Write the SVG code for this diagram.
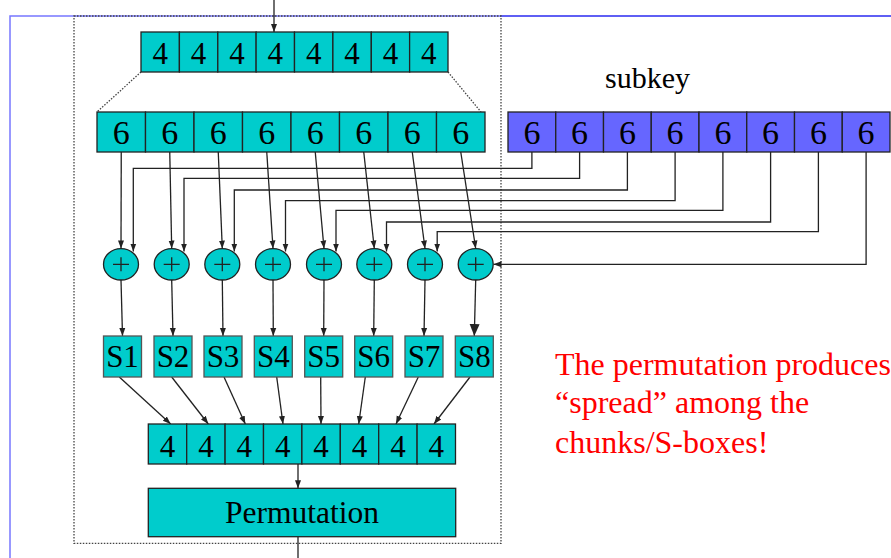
<svg xmlns="http://www.w3.org/2000/svg" width="891" height="558" viewBox="0 0 891 558">
<defs>
<marker id="ah" markerUnits="userSpaceOnUse" markerWidth="8" markerHeight="8" viewBox="0 0 8 8" refX="8" refY="4" orient="auto"><path d="M0,1 L8,4 L0,7 Z" fill="#222"/></marker>
<marker id="ahb" markerUnits="userSpaceOnUse" markerWidth="12" markerHeight="12" viewBox="0 0 12 12" refX="12" refY="6" orient="auto"><path d="M0,1 L12,6 L0,11 Z" fill="#222"/></marker>
<style>
.cell{fill:#00CCCC;stroke:#222;stroke-width:1.3}
.key{fill:#6666FF;stroke:#222;stroke-width:1.3}
.sbox{fill:#00CCCC;stroke:#555;stroke-width:1.3}
.t{font-family:"Liberation Serif","Times New Roman",serif;fill:#000;text-anchor:middle}
.c{stroke:#222;stroke-width:1.3;fill:none}
.a{marker-end:url(#ah)}
.dot{stroke:#444;stroke-width:1.3;fill:none;stroke-dasharray:1.5 1.5}
.red{font-family:"Liberation Serif","Times New Roman",serif;fill:#FF0000;font-size:32px}
</style>
</defs>
<rect x="0" y="0" width="891" height="558" fill="#fff"/>
<g id="frame">
<path d="M10,558 V16 H500" stroke="#7777FF" stroke-width="1.5" fill="none"/>
<path d="M500,16 H891" stroke="#2a2aF0" stroke-width="1.5" fill="none"/>
<rect x="74" y="16" width="427" height="527.3" class="dot"/>
<line x1="141" y1="72" x2="97" y2="112" class="dot"/>
<line x1="448" y1="72" x2="481" y2="112" class="dot"/>
</g>
<g id="connectors">
<line x1="274" y1="0" x2="274" y2="32" class="c a"/>
<line x1="121.25" y1="152" x2="121" y2="248.5" class="c a"/>
<line x1="169.75" y1="152" x2="171.7" y2="248.5" class="c a"/>
<line x1="218.25" y1="152" x2="222.3" y2="248.5" class="c a"/>
<line x1="266.75" y1="152" x2="273" y2="248.5" class="c a"/>
<line x1="315.25" y1="152" x2="324" y2="248.5" class="c a"/>
<line x1="363.75" y1="152" x2="374.3" y2="248.5" class="c a"/>
<line x1="412.25" y1="152" x2="425" y2="248.5" class="c a"/>
<line x1="460.75" y1="152" x2="475.7" y2="248.5" class="c a"/>
<path d="M531.9,152 V168.3 H133.3 V251.5" class="c a"/>
<path d="M579.6,152 V178.3 H184 V251.5" class="c a"/>
<path d="M627.4,152 V190 H234.3 V251.5" class="c a"/>
<path d="M675.1,152 V200.7 H285.5 V251.5" class="c a"/>
<path d="M722.9,152 V210.3 H336 V251.5" class="c a"/>
<path d="M770.6,152 V222 H386.5 V251.5" class="c a"/>
<path d="M818.4,152 V231.7 H437.2 V251.5" class="c a"/>
<path d="M866.1,152 V264.3 H493.5" class="c a"/>
<line x1="121" y1="280" x2="122.5" y2="336" class="c a"/>
<line x1="171.7" y1="280" x2="173" y2="336" class="c a"/>
<line x1="222.3" y1="280" x2="223" y2="336" class="c a"/>
<line x1="273" y1="280" x2="273.3" y2="336" class="c a"/>
<line x1="324" y1="280" x2="323.7" y2="336" class="c a"/>
<line x1="374.3" y1="280" x2="373.7" y2="336" class="c a"/>
<line x1="425" y1="280" x2="424" y2="336" class="c a"/>
<line x1="475.7" y1="280" x2="474.3" y2="336" class="c" marker-end="url(#ahb)"/>
<line x1="119.3" y1="377" x2="170.7" y2="424" class="c a"/>
<line x1="171.7" y1="377" x2="208.3" y2="424" class="c a"/>
<line x1="224" y1="377" x2="245.3" y2="424" class="c a"/>
<line x1="276.7" y1="377" x2="283" y2="424" class="c a"/>
<line x1="320.7" y1="377" x2="321" y2="424" class="c a"/>
<line x1="365.3" y1="377" x2="358.7" y2="424" class="c a"/>
<line x1="418.3" y1="377" x2="396" y2="424" class="c a"/>
<line x1="470" y1="377" x2="434" y2="424" class="c a"/>
<line x1="298" y1="464" x2="298" y2="488.3" class="c a"/>
<line x1="298" y1="537" x2="298" y2="558" class="c"/>
</g>
<g id="input-row" font-size="31">
<rect class="cell" x="141" y="32" width="38.4" height="40"/><rect class="cell" x="179.4" y="32" width="38.4" height="40"/><rect class="cell" x="217.8" y="32" width="38.4" height="40"/><rect class="cell" x="256.1" y="32" width="38.4" height="40"/><rect class="cell" x="294.5" y="32" width="38.4" height="40"/><rect class="cell" x="332.9" y="32" width="38.4" height="40"/><rect class="cell" x="371.3" y="32" width="38.4" height="40"/><rect class="cell" x="409.6" y="32" width="38.4" height="40"/>
<text class="t" x="160.2" y="64">4</text><text class="t" x="198.6" y="64">4</text><text class="t" x="236.9" y="64">4</text><text class="t" x="275.3" y="64">4</text><text class="t" x="313.7" y="64">4</text><text class="t" x="352.1" y="64">4</text><text class="t" x="390.4" y="64">4</text><text class="t" x="428.8" y="64">4</text>
</g>
<g id="expanded-row" font-size="34">
<rect class="cell" x="97" y="112" width="48.5" height="40"/><rect class="cell" x="145.5" y="112" width="48.5" height="40"/><rect class="cell" x="194" y="112" width="48.5" height="40"/><rect class="cell" x="242.5" y="112" width="48.5" height="40"/><rect class="cell" x="291" y="112" width="48.5" height="40"/><rect class="cell" x="339.5" y="112" width="48.5" height="40"/><rect class="cell" x="388" y="112" width="48.5" height="40"/><rect class="cell" x="436.5" y="112" width="48.5" height="40"/>
<text class="t" x="121.25" y="144">6</text><text class="t" x="169.75" y="144">6</text><text class="t" x="218.25" y="144">6</text><text class="t" x="266.75" y="144">6</text><text class="t" x="315.25" y="144">6</text><text class="t" x="363.75" y="144">6</text><text class="t" x="412.25" y="144">6</text><text class="t" x="460.75" y="144">6</text>
</g>
<g id="subkey" font-size="34">
<text class="t" x="647.5" y="88" font-size="30">subkey</text>
<rect class="key" x="508" y="112" width="47.75" height="40"/><rect class="key" x="555.75" y="112" width="47.75" height="40"/><rect class="key" x="603.5" y="112" width="47.75" height="40"/><rect class="key" x="651.25" y="112" width="47.75" height="40"/><rect class="key" x="699" y="112" width="47.75" height="40"/><rect class="key" x="746.75" y="112" width="47.75" height="40"/><rect class="key" x="794.5" y="112" width="47.75" height="40"/><rect class="key" x="842.25" y="112" width="47.75" height="40"/>
<text class="t" x="531.9" y="144">6</text><text class="t" x="579.6" y="144">6</text><text class="t" x="627.4" y="144">6</text><text class="t" x="675.1" y="144">6</text><text class="t" x="722.9" y="144">6</text><text class="t" x="770.6" y="144">6</text><text class="t" x="818.4" y="144">6</text><text class="t" x="866.1" y="144">6</text>
</g>
<g id="xor-gates">
<g id="xor1"><ellipse class="cell" cx="121" cy="264.3" rx="17.5" ry="15.7"/><path class="c" d="M113,264.3 H129 M121,257.3 V271.3"/></g>
<g id="xor2"><ellipse class="cell" cx="171.7" cy="264.3" rx="17.5" ry="15.7"/><path class="c" d="M163.7,264.3 H179.7 M171.7,257.3 V271.3"/></g>
<g id="xor3"><ellipse class="cell" cx="222.3" cy="264.3" rx="17.5" ry="15.7"/><path class="c" d="M214.3,264.3 H230.3 M222.3,257.3 V271.3"/></g>
<g id="xor4"><ellipse class="cell" cx="273" cy="264.3" rx="17.5" ry="15.7"/><path class="c" d="M265,264.3 H281 M273,257.3 V271.3"/></g>
<g id="xor5"><ellipse class="cell" cx="324" cy="264.3" rx="17.5" ry="15.7"/><path class="c" d="M316,264.3 H332 M324,257.3 V271.3"/></g>
<g id="xor6"><ellipse class="cell" cx="374.3" cy="264.3" rx="17.5" ry="15.7"/><path class="c" d="M366.3,264.3 H382.3 M374.3,257.3 V271.3"/></g>
<g id="xor7"><ellipse class="cell" cx="425" cy="264.3" rx="17.5" ry="15.7"/><path class="c" d="M417,264.3 H433 M425,257.3 V271.3"/></g>
<g id="xor8"><ellipse class="cell" cx="475.7" cy="264.3" rx="17.5" ry="15.7"/><path class="c" d="M467.7,264.3 H483.7 M475.7,257.3 V271.3"/></g>
</g>
<g id="sboxes" font-size="31">
<g id="s1"><rect class="sbox" x="103.5" y="336" width="38" height="41"/><text class="t" x="122.5" y="367.3">S1</text></g>
<g id="s2"><rect class="sbox" x="154" y="336" width="38" height="41"/><text class="t" x="173" y="367.3">S2</text></g>
<g id="s3"><rect class="sbox" x="204" y="336" width="38" height="41"/><text class="t" x="223" y="367.3">S3</text></g>
<g id="s4"><rect class="sbox" x="254.3" y="336" width="38" height="41"/><text class="t" x="273.3" y="367.3">S4</text></g>
<g id="s5"><rect class="sbox" x="304.7" y="336" width="38" height="41"/><text class="t" x="323.7" y="367.3">S5</text></g>
<g id="s6"><rect class="sbox" x="354.7" y="336" width="38" height="41"/><text class="t" x="373.7" y="367.3">S6</text></g>
<g id="s7"><rect class="sbox" x="405" y="336" width="38" height="41"/><text class="t" x="424" y="367.3">S7</text></g>
<g id="s8"><rect class="sbox" x="455.3" y="336" width="38" height="41"/><text class="t" x="474.3" y="367.3">S8</text></g>
</g>
<g id="output-row" font-size="31">
<rect class="cell" x="148.3" y="424" width="38.4" height="40"/><rect class="cell" x="186.7" y="424" width="38.4" height="40"/><rect class="cell" x="225.1" y="424" width="38.4" height="40"/><rect class="cell" x="263.5" y="424" width="38.4" height="40"/><rect class="cell" x="301.9" y="424" width="38.4" height="40"/><rect class="cell" x="340.3" y="424" width="38.4" height="40"/><rect class="cell" x="378.7" y="424" width="38.4" height="40"/><rect class="cell" x="417.1" y="424" width="38.4" height="40"/>
<text class="t" x="167.5" y="457">4</text><text class="t" x="205.9" y="457">4</text><text class="t" x="244.3" y="457">4</text><text class="t" x="282.7" y="457">4</text><text class="t" x="321.1" y="457">4</text><text class="t" x="359.5" y="457">4</text><text class="t" x="397.9" y="457">4</text><text class="t" x="436.3" y="457">4</text>
</g>
<g id="permutation">
<rect class="cell" x="148.3" y="488.3" width="307.4" height="48.4"/>
<text class="t" x="302" y="523.3" font-size="31.5">Permutation</text>
</g>
<g id="note">
<text class="red" x="555" y="375">The permutation produces</text>
<text class="red" x="555" y="413">“spread” among the</text>
<text class="red" x="555" y="453">chunks/S-boxes!</text>
</g>
</svg>
